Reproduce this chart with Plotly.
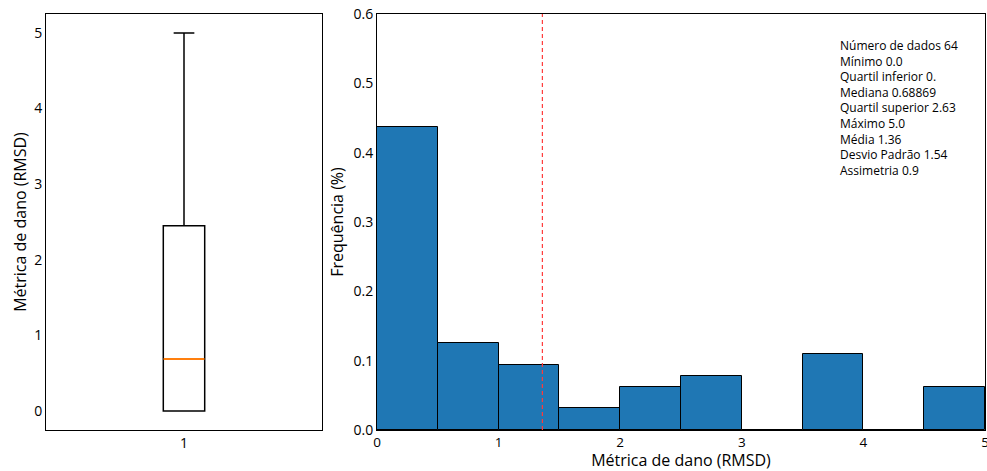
import plotly.graph_objects as go

# Damage metric (RMSD) summary for the box plot
box_q1 = 0.0
box_median = 0.68869
box_q3 = 2.45
box_low = 0.0
box_high = 5.0
box_pos = 1

# Histogram of the damage metric (relative frequency per 0.5 bin)
bin_centers = [0.25, 0.75, 1.25, 1.75, 2.25, 2.75, 3.25, 3.75, 4.25, 4.75]
bin_freq = [0.4375, 0.125, 0.09375, 0.03125, 0.0625, 0.078125, 0.0, 0.109375, 0.0, 0.0625]
bin_width = 0.5
mean_value = 1.36

stats_lines = [
    "Número de dados 64",
    "Mínimo 0.0",
    "Quartil inferior 0.",
    "Mediana 0.68869",
    "Quartil superior 2.63",
    "Máximo 5.0",
    "Média 1.36",
    "Desvio Padrão 1.54",
    "Assimetria 0.9",
]

FONT = "Open Sans"
W, H = 987, 471

fig = go.Figure()

fig.add_trace(go.Box(
    x=[box_pos], q1=[box_q1], median=[box_median], q3=[box_q3],
    lowerfence=[box_low], upperfence=[box_high],
    width=0.15, whiskerwidth=0.5,
    fillcolor="white", line=dict(color="black", width=1.5),
    xaxis="x", yaxis="y", showlegend=False, hoverinfo="skip",
))
# orange median line on top of the box
fig.add_trace(go.Scatter(
    x=[box_pos - 0.074, box_pos + 0.074], y=[box_median, box_median],
    mode="lines", line=dict(color="#ff7f0e", width=2),
    xaxis="x", yaxis="y", showlegend=False, hoverinfo="skip",
))

fig.add_trace(go.Bar(
    x=bin_centers, y=bin_freq, width=bin_width,
    marker=dict(color="#1f77b4", line=dict(color="black", width=1)),
    xaxis="x2", yaxis="y2", showlegend=False,
))
fig.add_trace(go.Scatter(
    x=[mean_value, mean_value], y=[0, 0.6],
    mode="lines", line=dict(color="#ff3b3b", width=1.2, dash="4px,3px"),
    xaxis="x2", yaxis="y2", showlegend=False, hoverinfo="skip",
))

y_dom = [1 - 430 / H, 1 - 14 / H]
axis_common = dict(showline=True, mirror=True, linecolor="black", linewidth=1,
                   showgrid=False, zeroline=False, ticks="", automargin=False)
tick_font = dict(family=FONT, size=14, color="black")
title_font = dict(family=FONT, size=16, color="black")

fig.update_layout(
    width=W, height=H,
    margin=dict(l=0, r=0, t=0, b=0, autoexpand=False),
    paper_bgcolor="white", plot_bgcolor="white",
    font=dict(family=FONT, color="black"),
    bargap=0,
    xaxis=dict(domain=[46 / W, 322 / W], range=[0.5, 1.5], tickvals=[1], ticktext=["1"],
               anchor="y", tickfont=tick_font, **axis_common),
    yaxis=dict(domain=y_dom, range=[-0.25, 5.25], tickvals=[0, 1, 2, 3, 4, 5],
               anchor="x", tickfont=tick_font,
               title=dict(text="Métrica de dano (RMSD)", font=title_font, standoff=3),
               **axis_common),
    xaxis2=dict(domain=[377 / W, 985 / W], range=[0, 5], tickvals=[0, 1, 2, 3, 4, 5],
                anchor="y2", ticklabeloverflow="allow",
                tickfont=dict(family=FONT, size=13.5, color="black"),
                title=dict(text="Métrica de dano (RMSD)", font=title_font, standoff=11),
                **axis_common),
    yaxis2=dict(domain=y_dom, range=[0, 0.6], tickvals=[0, 0.1, 0.2, 0.3, 0.4, 0.5, 0.6],
                ticktext=["0.0", "0.1", "0.2", "0.3", "0.4", "0.5", "0.6"],
                anchor="x2", tickfont=tick_font,
                title=dict(text="Frequência (%)", font=title_font, standoff=5),
                **axis_common),
)

fig.add_annotation(
    x=838 / W, y=1 - 35 / H,
    xref="paper", yref="paper", xanchor="left", yanchor="top",
    text="<br>".join(stats_lines), showarrow=False, align="left",
    font=dict(family=FONT, size=12, color="black"),
)

fig.write_html("out.html")
